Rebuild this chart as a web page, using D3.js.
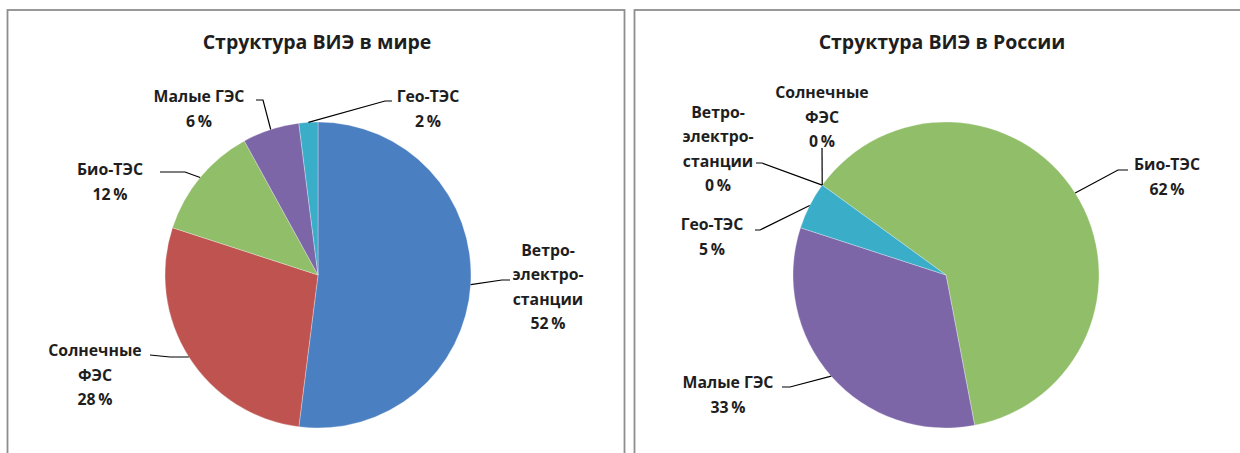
<!DOCTYPE html>
<html><head><meta charset="utf-8">
<script src="https://cdn.jsdelivr.net/npm/d3@7"></script>
<style>
html,body{margin:0;padding:0;background:#fff;}
svg{display:block;}
text{font-family:"Open Sans","Noto Sans",sans-serif;font-weight:bold;fill:#1e1e1e;}
</style></head>
<body>
<svg id="c" width="1240" height="453"></svg>
<script>
// ---- data ----
const worldTitle = "Структура ВИЭ в мире";
const russiaTitle = "Структура ВИЭ в России";
const categories = ["Ветро-\nэлектро-\nстанции", "Солнечные\nФЭС", "Био-ТЭС", "Малые ГЭС", "Гео-ТЭС"];
const worldValues = [52, 28, 12, 6, 2];
const russiaValues = [0, 0, 62, 33, 5];
const colors = ["#4A7FC1", "#BE5350", "#91BE68", "#7D66A8", "#3AADC8"];

// ---- layout ----
const svg = d3.select("#c");
const R = 153;
const charts = [
  {title: worldTitle, values: worldValues, cx: 318, cy: 275, start: 0,
   panel: {x: 7.5, y: 10, w: 617, h: 460}, titleX: 317,
   // label center (relative to pie center), elbow and leader end (relative to pie center)
   labels: [
     {lx: 230, ly: 12, elbow: [184, 5], end: [192, 5]},
     {lx: -223, ly: 100, elbow: [-148, 82], end: [-168, 80]},
     {lx: -208, ly: -93, elbow: [-133, -103], end: [-158, -103]},
     {lx: -119, ly: -166, elbow: [-55, -175], end: [-62, -175]},
     {lx: 110, ly: -166, elbow: [67, -174], end: [74, -174]}
   ]},
  {title: russiaTitle, values: russiaValues, cx: 946, cy: 275, start: 306,
   panel: {x: 634.5, y: 10, w: 620, h: 460}, titleX: 942,
   labels: [
     {lx: -228, ly: -126, elbow: [-184, -112], end: [-190, -112]},
     {lx: -124, ly: -158, elbow: [-124, -127], end: [-124, -127]},
     {lx: 221, ly: -98, elbow: [172, -105], end: [182, -105]},
     {lx: -218, ly: 120, elbow: [-156, 112], end: [-164, 112]},
     {lx: -234, ly: -38, elbow: [-186, -45], end: [-191, -45]}
   ]}
];

const fs = 15.8, lh = 24.5;

charts.forEach(ch => {
  svg.append("rect").attr("x", ch.panel.x).attr("y", ch.panel.y)
    .attr("width", ch.panel.w).attr("height", ch.panel.h)
    .attr("fill", "#fff").attr("stroke", "#8e8e8e").attr("stroke-width", 1.8);

  svg.append("text").attr("x", ch.titleX).attr("y", 49)
    .attr("text-anchor", "middle").attr("font-size", 19.5).text(ch.title);

  const total = d3.sum(ch.values);
  const st = ch.start * Math.PI / 180;
  const pie = d3.pie().sort(null).value(d => d)
    .startAngle(st).endAngle(st + 2 * Math.PI);
  const arcs = pie(ch.values);
  const arc = d3.arc().innerRadius(0).outerRadius(R);
  const g = svg.append("g").attr("transform", `translate(${ch.cx},${ch.cy})`);
  g.selectAll("path").data(arcs).join("path")
    .attr("d", arc).attr("fill", (d, i) => colors[i])
    .attr("stroke", "#fff").attr("stroke-width", 0.5).attr("stroke-opacity", 0.6);

  arcs.forEach((a, i) => {
    const L = ch.labels[i];
    const mid = (a.startAngle + a.endAngle) / 2;
    const ex = R * Math.sin(mid), ey = -R * Math.cos(mid);
    g.append("path")
      .attr("d", d3.line()([[ex, ey], L.elbow, L.end]))
      .attr("fill", "none").attr("stroke", "#000").attr("stroke-width", 1.2);
    const lines = categories[i].split("\n");
    lines.push(d3.format(".0f")(ch.values[i] / total * 100) + "\u2009%");
    const n = lines.length;
    const t = g.append("text").attr("text-anchor", "middle").attr("font-size", fs);
    lines.forEach((s, k) => {
      t.append("tspan").attr("x", L.lx)
        .attr("y", L.ly + (k - (n - 1) / 2) * lh + fs * 0.35).text(s);
    });
  });
});
</script>
</body></html>
